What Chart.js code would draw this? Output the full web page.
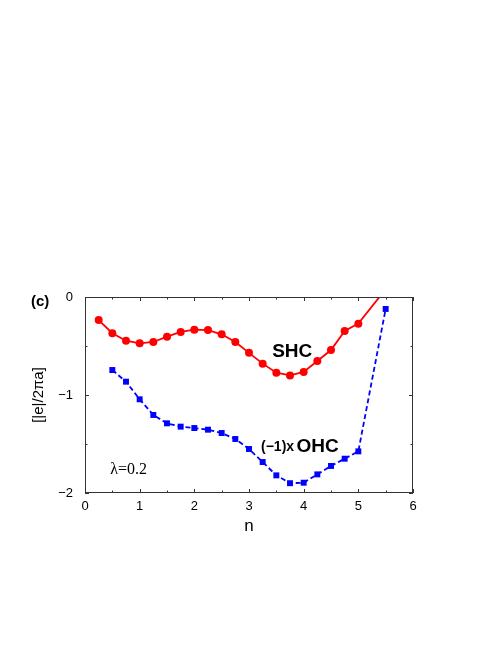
<!DOCTYPE html>
<html>
<head>
<meta charset="utf-8">
<script src="https://cdn.jsdelivr.net/npm/chart.js@4.4.1/dist/chart.umd.min.js"></script>
<style>
  html, body { margin: 0; padding: 0; background: #fff; }
  #wrap { width: 498px; height: 645px; }
</style>
</head>
<body>
<div id="wrap"><canvas id="chart" width="498" height="645"></canvas></div>
<script>
// datos
const nShc = [0.25, 0.5, 0.75, 1.0, 1.25, 1.5, 1.75, 2.0, 2.25, 2.5, 2.75, 3.0, 3.25, 3.5, 3.75, 4.0, 4.25, 4.5, 4.75, 5.0, 5.5];
const shc = [-0.235, -0.37, -0.446, -0.473, -0.459, -0.405, -0.357, -0.333, -0.337, -0.381, -0.46, -0.57, -0.68, -0.772, -0.80, -0.765, -0.653, -0.541, -0.347, -0.272, 0.08];

const nOhc = [0.5, 0.75, 1.0, 1.25, 1.5, 1.75, 2.0, 2.25, 2.5, 2.75, 3.0, 3.25, 3.5, 3.75, 4.0, 4.25, 4.5, 4.75, 5.0, 5.5];
const ohc = [-0.745, -0.864, -1.044, -1.204, -1.289, -1.323, -1.337, -1.354, -1.388, -1.449, -1.551, -1.684, -1.82, -1.90, -1.895, -1.81, -1.724, -1.65, -1.575, -0.122];

const xTicks = [0, 1, 2, 3, 4, 5, 6];
const yTicks = [0, -1, -2];

const sans = 'Liberation Sans, Arial, sans-serif';
const serif = 'Liberation Serif, Times New Roman, serif';

const fmt = v => (v < 0 ? '\u2212' + Math.abs(v) : String(v));

// marco con ticks hacia adentro en los cuatro lados
const frameTicks = {
    id: 'frameTicks',
    afterDatasetsDraw(chart) {
        const { ctx, chartArea: a, scales: { x, y } } = chart;
        ctx.save();
        ctx.strokeStyle = '#333';
        ctx.lineWidth = 1;
        ctx.beginPath();
        for (let v = 0; v <= 6; v += 0.5) {
            const px = Math.round(x.getPixelForValue(v)) + 0.5;
            const len = Number.isInteger(v) ? 4 : 2.5;
            ctx.moveTo(px, a.bottom); ctx.lineTo(px, a.bottom - len);
            ctx.moveTo(px, a.top); ctx.lineTo(px, a.top + len);
        }
        for (let v = -2; v <= 0; v += 0.5) {
            const py = Math.round(y.getPixelForValue(v)) + 0.5;
            const len = Number.isInteger(v) ? 4 : 2.5;
            ctx.moveTo(a.left, py); ctx.lineTo(a.left + len, py);
            ctx.moveTo(a.right, py); ctx.lineTo(a.right - len, py);
        }
        ctx.stroke();
        ctx.strokeRect(Math.round(a.left) + 0.5, Math.round(a.top) + 0.5,
            Math.round(a.width) - 1, Math.round(a.height) - 1);

        // etiquetas
        ctx.fillStyle = '#000';
        ctx.textBaseline = 'middle';
        ctx.textAlign = 'center';
        ctx.font = 'bold 19px ' + sans;
        ctx.fillText('SHC', x.getPixelForValue(3.79), y.getPixelForValue(-0.56));

        ctx.textAlign = 'left';
        ctx.font = 'bold 14px ' + sans;
        ctx.fillText('(\u22121)x', x.getPixelForValue(3.22), y.getPixelForValue(-1.53));
        ctx.font = 'bold 19px ' + sans;
        ctx.fillText('OHC', x.getPixelForValue(3.87), y.getPixelForValue(-1.527));

        ctx.font = '16px ' + serif;
        ctx.fillText('\u03bb=0.2', x.getPixelForValue(0.46), y.getPixelForValue(-1.76));

        ctx.font = 'bold 15px ' + sans;
        ctx.fillText('(c)', a.left - 54, a.top + 5);
        ctx.restore();
    }
};

const ctx = document.getElementById('chart').getContext('2d');
new Chart(ctx, {
    type: 'line',
    data: {
        datasets: [{
            label: 'SHC',
            data: nShc.map((n, i) => ({ x: n, y: shc[i] })),
            borderColor: '#ff0000',
            backgroundColor: '#ff0000',
            borderWidth: 1.8,
            pointStyle: 'circle',
            pointRadius: 4,
            pointBorderWidth: 0,
            clip: 0,
        }, {
            label: '(-1)xOHC',
            data: nOhc.map((n, i) => ({ x: n, y: ohc[i] })),
            borderColor: '#0000ff',
            backgroundColor: '#0000ff',
            borderWidth: 1.8,
            borderDash: [5, 3],
            pointStyle: 'rect',
            pointRadius: 4.2,
            pointBorderWidth: 0,
            clip: 0,
        }]
    },
    options: {
        responsive: false,
        animation: false,
        layout: { padding: { left: 0, top: 297, right: 85, bottom: 100 } },
        plugins: { legend: { display: false }, tooltip: { enabled: false } },
        scales: {
            x: {
                type: 'linear',
                min: 0, max: 6,
                afterBuildTicks: s => { s.ticks = xTicks.map(v => ({ value: v })); },
                afterFit: s => { s.height = 52; },
                grid: { display: false, drawTicks: false },
                border: { display: false },
                ticks: { padding: 6, color: '#000', font: { family: sans, size: 13 }, callback: fmt },
                title: { display: true, text: 'n', color: '#000', font: { family: sans, size: 17 }, padding: { top: 0, bottom: 8 } }
            },
            y: {
                type: 'linear',
                min: -2, max: 0,
                afterBuildTicks: s => { s.ticks = yTicks.map(v => ({ value: v })); },
                afterFit: s => { s.width = 85; },
                grid: { display: false, drawTicks: false },
                border: { display: false },
                ticks: { padding: 12, color: '#000', font: { family: sans, size: 13 }, callback: fmt },
                title: { display: true, text: '[|e|/2\u03c0a]', color: '#000', font: { family: sans, size: 15 }, padding: { top: 30, bottom: 0 } }
            }
        }
    },
    plugins: [frameTicks]
});
</script>
</body>
</html>
